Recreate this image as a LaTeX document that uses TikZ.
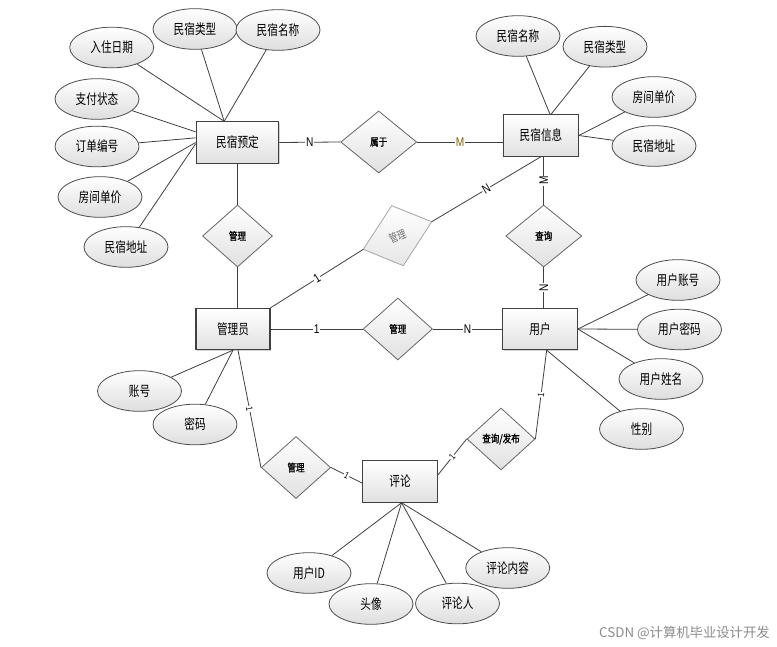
\documentclass[tikz,border=0pt]{standalone}
\usepackage{fontspec}
\usetikzlibrary{shapes.geometric,shadows}
\newfontfamily\cjk{Noto Sans CJK SC}[FakeStretch=0.76]
\newfontfamily\cjkb{Noto Sans CJK SC}[FakeStretch=0.8,FakeBold=1.2]
\newfontfamily\cjkw{Noto Sans CJK SC}
\newfontfamily\lab{Liberation Sans}[FakeStretch=0.8]
\tikzset{
  attr/.style={ellipse, draw=black!70, line width=0.6pt, top color=white, bottom color=black!13,
    minimum width=63pt, minimum height=30.5pt, inner sep=0pt, font=\cjk\fontsize{10.5}{12}\selectfont},
  ent/.style={rectangle, draw=black!75, line width=0.8pt, top color=white, bottom color=black!12,
    minimum width=56pt, minimum height=31pt, inner sep=0pt, font=\cjk\fontsize{10.5}{12}\selectfont,
    drop shadow={shadow xshift=0.8pt, shadow yshift=-0.8pt, opacity=0.35, fill=black!50}},
  rel/.style={diamond, aspect=1.2, draw=black!60, line width=0.6pt, top color=white, bottom color=black!12,
    minimum width=56pt, minimum height=46.5pt, inner sep=0pt, font=\cjkb\fontsize{8}{10}\selectfont},
  conn/.style={draw=black!75, line width=0.6pt},
  card/.style={font=\lab\fontsize{9.5}{10}\selectfont, fill=white, inner sep=0.6pt},
  tick/.style={card, sloped, font=\lab\fontsize{7}{8}\selectfont},
}
\begin{document}
\begin{tikzpicture}[x=0.75pt,y=-0.75pt]
\fill[white] (0,0) rectangle (777,646);
\useasboundingbox (0,0) rectangle (777,646);

% entities
\node[ent, minimum width=62pt] (yd) at (237.5,142.5) {民宿预定};
\node[ent] (xx) at (541,135.5) {民宿信息};
\node[ent, minimum width=55.5pt] (gly) at (233,329) {管理员};
\node[ent] (yh) at (540,329) {用户};
\node[ent] (pl) at (400,481.5) {评论};

% relationships
\node[rel, minimum width=57pt] (r1) at (378.7,142) {属于};
\node[rel, minimum width=52.5pt] (r2) at (237.5,236) {管理};
\node[rel, minimum width=57pt] (r3) at (543.7,236) {查询};
\node[rel, minimum width=52pt] (r4) at (397.8,329) {管理};
\node[rel, minimum width=52pt] (r5) at (296,467.5) {管理};
\node[rel, minimum width=51pt] (r6) at (501,439) {查询/发布};

% gray rotated diamond
\coordinate (gT) at (391.7,205.7);
\coordinate (gR) at (431.7,221.7);
\coordinate (gB) at (403.3,265.7);
\coordinate (gL) at (363.3,249.3);
\path[top color=white, bottom color=black!10, draw=black!35, line width=0.6pt] (gT)--(gR)--(gB)--(gL)--cycle;
\node[rotate=22, text=black!55, inner sep=0pt, font=\cjk\fontsize{8.5}{10}\selectfont] (gm) at (397.5,236) {管理};

% relationship connectors
\draw[conn] (yd.east) -- node[card]{N} (r1.west);
\draw[conn] (r1.east) -- node[card, text={rgb,255:red,130;green,100;blue,0}]{M} (r1.east -| xx.west);
\draw[conn] (yd.south) -- (r2.north);
\draw[conn] (r2.south) -- (r2.south |- gly.north);
\draw[conn] (gly.north east) -- node[card, sloped]{1} (gL);
\draw[conn] (gR) -- node[card, sloped]{N} (xx.south);
\draw[conn] (r3.north |- xx.south) -- node[card, rotate=90]{M} (r3.north);
\draw[conn] (r3.south) -- node[card, rotate=90]{N} (r3.south |- yh.north);
\draw[conn] (gly.east) -- node[card]{1} (r4.west);
\draw[conn] (r4.east) -- node[card]{N} (yh.west);
\draw[conn] ([xshift=3.75pt]gly.south) -- node[tick]{1} (r5.west);
\draw[conn] (r5.east) -- node[tick]{1} ([yshift=-1.2pt]pl.west);
\draw[conn] ([yshift=4.9pt]pl.east) -- node[tick]{1} (r6.west);
\draw[conn] (r6.east) -- node[tick]{1} ([xshift=5pt]yh.south);

% attributes of 民宿预定
\node[attr] (a1) at (111.7,47.5) {入住日期};
\node[attr] (a2) at (195,29) {民宿类型};
\node[attr] (a3) at (278,30) {民宿名称};
\node[attr] (a4) at (97,99) {支付状态};
\node[attr] (a5) at (97,146.5) {订单编号};
\node[attr] (a6) at (100,197) {房间单价};
\node[attr] (a7) at (126,247) {民宿地址};
\draw[conn] (a1) -- ([xshift=-10pt]yd.north);
\draw[conn] (a2) -- ([xshift=-10pt]yd.north);
\draw[conn] (a3) -- ([xshift=-10pt]yd.north);
\draw[conn] (a4) -- ([yshift=8pt]yd.west);
\draw[conn] (a5) -- ([yshift=3.5pt]yd.west);
\draw[conn] (a6) -- (yd.west);
\draw[conn] (a7) -- ([yshift=-1pt]yd.west);

% attributes of 民宿信息
\node[attr] (b1) at (518,36) {民宿名称};
\node[attr] (b2) at (605,46.7) {民宿类型};
\node[attr] (b3) at (654,97) {房间单价};
\node[attr] (b4) at (654,146) {民宿地址};
\draw[conn] (b1) -- ([xshift=6.75pt]xx.north);
\draw[conn] (b2) -- ([xshift=7.5pt]xx.north);
\draw[conn] (b3) -- (xx.east);
\draw[conn] (b4) -- (xx.east);

% attributes of 用户
\node[attr] (c1) at (678,280) {用户账号};
\node[attr] (c2) at (679.5,329.5) {用户密码};
\node[attr] (c3) at (661,379) {用户姓名};
\node[attr] (c4) at (641.5,429) {性别};
\draw[conn] (c1) -- (yh.east);
\draw[conn] (c2) -- (yh.east);
\draw[conn] (c3) -- (yh.east);
\draw[conn] (c4) -- ([xshift=5pt]yh.south);

% attributes of 管理员
\node[attr] (d1) at (139.5,391) {账号};
\node[attr] (d2) at (195,424.5) {密码};
\draw[conn] (d1) -- (gly.south);
\draw[conn] (d2) -- (gly.south);

% attributes of 评论
\node[attr] (e1) at (309,573) {用户ID};
\node[attr] (e2) at (371,604) {头像};
\node[attr] (e4) at (507.7,568) {评论内容};
\node[attr] (e3) at (457.5,603.5) {评论人};
\draw[conn] (e1) -- ([xshift=1.2pt]pl.south);
\draw[conn] (e2) -- ([xshift=1.2pt]pl.south);
\draw[conn] (e3) -- ([xshift=1.2pt]pl.south);
\draw[conn] (e4) -- ([xshift=1.2pt]pl.south);

% watermark
\node[anchor=east, text=black!45, font=\cjkw\fontsize{10}{12}\selectfont, inner sep=0pt] (wm) at (770,633) {CSDN @计算机毕业设计开发};
\end{tikzpicture}
\end{document}
